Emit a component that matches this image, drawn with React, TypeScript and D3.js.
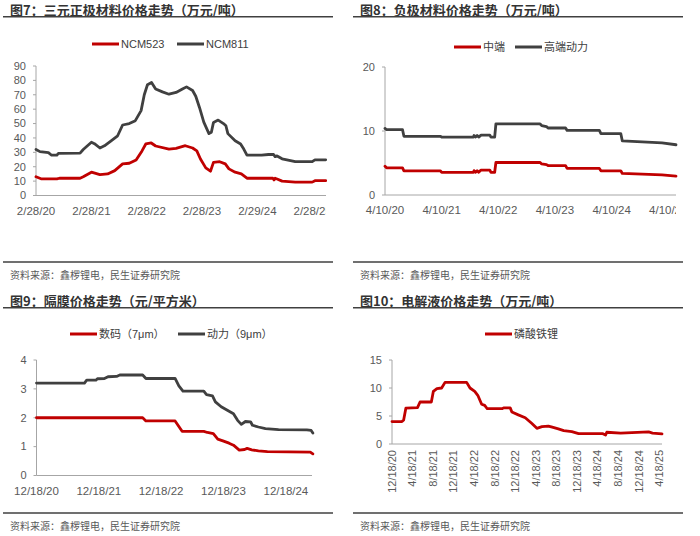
import React from 'react';
import * as d3 from 'd3';

type Pt = [string, number];

// ---------- Figure 7: cathode (万元/吨) ----------
const ncm523: Pt[] = [
  ['2020-02-28', 13], ['2020-04-01', 11.6], ['2020-07-15', 11.5], ['2020-08-01', 12], ['2020-12-15', 12],
  ['2021-01-05', 13], ['2021-02-28', 16.2], ['2021-04-25', 14.5], ['2021-06-15', 15], ['2021-08-01', 17.3],
  ['2021-09-22', 22], ['2021-11-05', 22.4], ['2021-12-20', 24.7], ['2022-01-28', 31], ['2022-02-22', 35.8],
  ['2022-03-30', 36.5], ['2022-04-28', 34.4], ['2022-07-25', 32.3], ['2022-09-10', 32.8], ['2022-11-10', 34.6],
  ['2022-12-28', 33], ['2023-01-25', 31], ['2023-02-18', 25.4], ['2023-03-25', 19.2], ['2023-04-25', 16.9],
  ['2023-05-15', 23], ['2023-06-25', 23.5], ['2023-08-01', 22], ['2023-08-25', 18.5], ['2023-10-05', 16.2],
  ['2023-11-15', 15], ['2023-12-22', 12], ['2024-06-10', 12], ['2024-06-18', 10.8], ['2024-06-25', 12],
  ['2024-07-08', 11.5], ['2024-08-10', 10], ['2024-11-05', 9.3], ['2025-02-25', 9.3], ['2025-03-15', 10.3],
  ['2025-05-25', 10.3],
];
const ncm811: Pt[] = [
  ['2020-02-28', 32], ['2020-03-25', 30.5], ['2020-05-20', 29.8], ['2020-06-10', 28], ['2020-07-15', 28],
  ['2020-07-25', 29.3], ['2020-12-15', 29.5], ['2021-01-05', 32], ['2021-02-28', 37], ['2021-03-20', 36],
  ['2021-04-25', 33], ['2021-05-25', 34.5], ['2021-07-08', 38], ['2021-08-20', 41.5], ['2021-09-22', 49],
  ['2021-11-05', 50], ['2021-12-15', 52], ['2022-01-22', 59], ['2022-02-12', 70], ['2022-03-05', 77],
  ['2022-04-01', 78.5], ['2022-04-28', 74], ['2022-06-12', 72], ['2022-07-25', 70.4], ['2022-09-10', 71.6],
  ['2022-10-22', 74], ['2022-11-18', 75.5], ['2022-12-28', 73], ['2023-01-18', 69], ['2023-02-12', 61],
  ['2023-03-12', 51], ['2023-04-15', 43], ['2023-05-01', 44], ['2023-05-15', 50.8], ['2023-06-15', 52.4],
  ['2023-07-20', 50], ['2023-08-05', 48.5], ['2023-08-18', 43], ['2023-10-05', 38], ['2023-11-10', 35.8],
  ['2023-12-01', 32.3], ['2023-12-22', 28], ['2024-03-28', 28], ['2024-05-12', 28.5], ['2024-06-15', 28.5],
  ['2024-06-25', 27], ['2024-07-08', 27.5], ['2024-08-10', 25.5], ['2024-11-05', 23.5], ['2025-02-25', 23.5],
  ['2025-03-15', 24.8], ['2025-05-25', 24.8],
];
const fig7Ticks = ['2020-02-28', '2021-02-28', '2022-02-28', '2023-02-28', '2024-02-29', '2025-02-28'];
const fig7YTicks = [0, 10, 20, 30, 40, 50, 60, 70, 80, 90];

// ---------- Figure 8: anode (万元/吨) ----------
const anodeMid: Pt[] = [
  ['2020-04-10', 4.5], ['2020-04-20', 4.25], ['2020-08-01', 4.25], ['2020-08-10', 3.78], ['2021-04-01', 3.78],
  ['2021-04-10', 3.55], ['2021-11-01', 3.55], ['2021-11-05', 3.8], ['2021-11-15', 3.55], ['2021-11-25', 3.8],
  ['2021-12-05', 3.55], ['2021-12-20', 3.9], ['2022-02-15', 3.9], ['2022-02-22', 3.55], ['2022-03-18', 3.55],
  ['2022-03-26', 5.08], ['2023-01-05', 5.08], ['2023-01-15', 4.85], ['2023-02-15', 4.75], ['2023-02-25', 4.6],
  ['2023-06-18', 4.6], ['2023-06-28', 4.15], ['2024-01-22', 4.15], ['2024-02-01', 3.78], ['2024-06-08', 3.78],
  ['2024-06-18', 3.37], ['2025-03-01', 3.15], ['2025-05-30', 2.95],
];
const anodeHigh: Pt[] = [
  ['2020-04-10', 10.4], ['2020-04-20', 10.2], ['2020-08-01', 10.2], ['2020-08-10', 9.17], ['2021-04-01', 9.17],
  ['2021-04-10', 9.05], ['2021-11-01', 9.05], ['2021-11-05', 9.3], ['2021-11-15', 9.05], ['2021-11-25', 9.3],
  ['2021-12-05', 9.05], ['2021-12-20', 9.35], ['2022-02-15', 9.35], ['2022-02-22', 9.05], ['2022-03-18', 9.05],
  ['2022-03-26', 11.1], ['2023-01-05', 11.1], ['2023-01-15', 10.85], ['2023-02-15', 10.7], ['2023-02-25', 10.47],
  ['2023-06-18', 10.47], ['2023-06-28', 10.1], ['2024-01-22', 10.1], ['2024-02-01', 9.6], ['2024-06-08', 9.6],
  ['2024-06-18', 8.45], ['2025-03-01', 8.15], ['2025-05-30', 7.85],
];
const fig8Ticks = ['2020-04-10', '2021-04-10', '2022-04-10', '2023-04-10', '2024-04-10', '2025-04-10'];
const fig8YTicks = [0, 10, 20];

// ---------- Figure 9: separator (元/平方米) ----------
const sep7: Pt[] = [
  ['2020-12-18', 2.0], ['2022-09-01', 2.0], ['2022-09-20', 1.89], ['2023-03-10', 1.89], ['2023-04-20', 1.53],
  ['2023-08-25', 1.53], ['2023-09-15', 1.49], ['2023-10-20', 1.45], ['2023-11-15', 1.26], ['2023-12-15', 1.2],
  ['2024-01-20', 1.12], ['2024-02-15', 1.05], ['2024-03-20', 0.88], ['2024-04-20', 0.9], ['2024-05-05', 0.94],
  ['2024-06-01', 0.89], ['2024-07-10', 0.85], ['2024-09-01', 0.83], ['2025-05-10', 0.81], ['2025-05-25', 0.75],
];
const sep9: Pt[] = [
  ['2020-12-18', 3.2], ['2021-09-25', 3.2], ['2021-10-08', 3.3], ['2021-12-01', 3.3], ['2021-12-10', 3.35],
  ['2022-01-20', 3.36], ['2022-02-10', 3.42], ['2022-04-01', 3.43], ['2022-04-20', 3.48], ['2022-09-01', 3.48],
  ['2022-09-20', 3.36], ['2023-03-10', 3.36], ['2023-04-01', 3.1], ['2023-04-25', 2.92], ['2023-08-25', 2.92],
  ['2023-09-10', 2.8], ['2023-10-15', 2.76], ['2023-11-01', 2.55], ['2023-12-05', 2.38], ['2024-01-10', 2.26],
  ['2024-02-15', 2.14], ['2024-03-10', 1.91], ['2024-04-01', 1.77], ['2024-04-25', 1.87], ['2024-05-25', 1.86],
  ['2024-06-05', 1.74], ['2024-07-10', 1.68], ['2024-08-20', 1.62], ['2024-11-05', 1.59], ['2025-04-20', 1.58],
  ['2025-05-15', 1.56], ['2025-05-25', 1.47],
];
const fig9Ticks = ['2020-12-18', '2021-12-18', '2022-12-18', '2023-12-18', '2024-12-18'];
const fig9YTicks = [0, 1, 2, 3, 4];

// ---------- Figure 10: electrolyte (万元/吨) ----------
const lfpElectrolyte: Pt[] = [
  ['2020-12-18', 4.0], ['2021-02-15', 4.0], ['2021-02-25', 4.3], ['2021-03-10', 6.4], ['2021-05-18', 6.5],
  ['2021-06-02', 7.5], ['2021-08-08', 7.5], ['2021-08-20', 9.4], ['2021-09-10', 9.9], ['2021-10-08', 10.0],
  ['2021-10-28', 11.0], ['2022-03-05', 11.0], ['2022-03-25', 10.0], ['2022-04-22', 9.4], ['2022-05-10', 8.7],
  ['2022-06-02', 7.1], ['2022-06-20', 6.9], ['2022-07-05', 6.3], ['2022-10-01', 6.3], ['2022-10-10', 6.45],
  ['2022-11-18', 6.45], ['2022-11-28', 5.7], ['2023-01-05', 5.2], ['2023-02-15', 4.7], ['2023-03-25', 3.7],
  ['2023-04-25', 2.8], ['2023-05-25', 3.1], ['2023-07-02', 3.2], ['2023-07-25', 3.0], ['2023-08-30', 2.7],
  ['2023-10-01', 2.4], ['2023-11-18', 2.2], ['2023-12-28', 1.85], ['2024-05-20', 1.85], ['2024-06-05', 1.6],
  ['2024-06-12', 2.1], ['2024-09-02', 1.95], ['2025-02-15', 2.15], ['2025-03-10', 1.95], ['2025-05-05', 1.8],
];
const fig10Ticks = [
  '2020-12-18', '2021-04-18', '2021-08-18', '2021-12-18', '2022-04-18', '2022-08-18', '2022-12-18',
  '2023-04-18', '2023-08-18', '2023-12-18', '2024-04-18', '2024-08-18', '2024-12-18', '2025-04-18',
];
const fig10YTicks = [0, 5, 10, 15];

const titles = [
  '图7：三元正极材料价格走势（万元/吨）',
  '图8：负极材料价格走势（万元/吨）',
  '图9：隔膜价格走势（元/平方米）',
  '图10：电解液价格走势（万元/吨）',
];
const sourceText = '资料来源：鑫椤锂电，民生证券研究院';

const RED = '#c00000';
const GRAY = '#404040';
const LATIN = "'Liberation Sans', Arial, 'Noto Sans CJK SC', sans-serif";
const CJK = "'Noto Sans CJK SC', 'Liberation Sans', sans-serif";

const parse = d3.timeParse('%Y-%m-%d');
const fmt = d3.timeFormat('%-m/%-d/%y');

type SeriesDef = { name: string; color: string; data: Pt[]; lx: number };

type PanelProps = {
  id: string;
  px: number;
  ty: number;
  title: string;
  legendY: number;
  series: SeriesDef[];
  xStart: string;
  xEnd: string;
  xRange: [number, number];
  yMax: number;
  yRange: [number, number];
  yTicks: number[];
  xTicks: string[];
  rotate?: boolean;
  bottomY: number;
  clipRight?: number;
};

function Panel(p: PanelProps) {
  const x = d3.scaleTime().domain([parse(p.xStart)!, parse(p.xEnd)!]).range(p.xRange);
  const y = d3.scaleLinear().domain([0, p.yMax]).range(p.yRange);
  const line = d3
    .line<Pt>()
    .x((d) => x(parse(d[0])!))
    .y((d) => y(d[1]));
  const ax = p.xRange[0];
  const ay = p.yRange[0];
  const clipId = `clip-${p.id}`;
  return (
    <g>
      <defs>
        <clipPath id={clipId}>
          <rect x={p.px} y={0} width={(p.clipRight ?? p.px + 340) - p.px} height={536} />
        </clipPath>
      </defs>
      <text x={p.px + 10} y={p.ty} fontFamily={CJK} fontWeight={700} fontSize={13} fill="#333">
        {p.title}
      </text>
      <line x1={p.px + 3} x2={p.px + 333} y1={p.ty + 2.3} y2={p.ty + 2.3} stroke="#404040" strokeWidth={1.6} />
      {p.series.map((s) => (
        <g key={s.name}>
          <line x1={s.lx} x2={s.lx + 27} y1={p.legendY} y2={p.legendY} stroke={s.color} strokeWidth={3} />
          <text x={s.lx + 29} y={p.legendY} dy="0.35em" fontFamily={LATIN} fontSize={11} fill="#404040">
            {s.name}
          </text>
        </g>
      ))}
      <line x1={ax} x2={ax} y1={ay} y2={p.yRange[1]} stroke="#a6a6a6" strokeWidth={1} />
      <line x1={ax} x2={p.xRange[1]} y1={ay} y2={ay} stroke="#a6a6a6" strokeWidth={1} />
      {p.yTicks.map((t) => (
        <g key={t}>
          <line x1={ax - 3} x2={ax} y1={y(t)} y2={y(t)} stroke="#a6a6a6" strokeWidth={1} />
          <text x={ax - 10} y={y(t)} dy="0.35em" textAnchor="end" fontFamily={LATIN} fontSize={11} fill="#595959">
            {t}
          </text>
        </g>
      ))}
      <g clipPath={`url(#${clipId})`}>
        {p.xTicks.map((t) => {
          const xx = x(parse(t)!);
          return p.rotate ? (
            <text
              key={t}
              transform={`translate(${xx},${ay + 6}) rotate(-90)`}
              dy="0.35em"
              textAnchor="end"
              fontFamily={LATIN}
              fontSize={11}
              fill="#595959"
            >
              {fmt(parse(t)!)}
            </text>
          ) : (
            <text key={t} x={xx} y={ay + 15} dy="0.35em" textAnchor="middle" fontFamily={LATIN} fontSize={11.5} fill="#595959">
              {fmt(parse(t)!)}
            </text>
          );
        })}
      </g>
      {p.series.map((s) => (
        <path key={s.name} d={line(s.data) ?? ''} fill="none" stroke={s.color} strokeWidth={2.8} strokeLinejoin="round" strokeLinecap="round" />
      ))}
      <line x1={p.px + 3} x2={p.px + 333} y1={p.bottomY} y2={p.bottomY} stroke="#404040" strokeWidth={1.4} />
      <text x={p.px + 10} y={p.bottomY + 17} fontFamily={CJK} fontSize={10} fill="#595959">
        {sourceText}
      </text>
    </g>
  );
}

export default function App() {
  return (
    <div style={{ position: 'absolute', left: 0, top: 0, width: 700, height: 536, background: '#fff' }}>
      <svg width={700} height={536} viewBox="0 0 700 536">
        <rect width={700} height={536} fill="#fff" />
        <Panel
          id="p7"
          px={0}
          ty={14.5}
          title={titles[0]}
          legendY={44}
          series={[
            { name: 'NCM523', color: RED, data: ncm523, lx: 92 },
            { name: 'NCM811', color: GRAY, data: ncm811, lx: 177 },
          ]}
          xStart="2020-02-28"
          xEnd="2025-05-27"
          xRange={[36, 326]}
          yMax={90}
          yRange={[195.5, 66]}
          yTicks={fig7YTicks}
          xTicks={fig7Ticks}
          bottomY={262}
          clipRight={326}
        />
        <Panel
          id="p8"
          px={350}
          ty={14.5}
          title={titles[1]}
          legendY={47}
          series={[
            { name: '中端', color: RED, data: anodeMid, lx: 454 },
            { name: '高端动力', color: GRAY, data: anodeHigh, lx: 515 },
          ]}
          xStart="2020-04-10"
          xEnd="2025-05-30"
          xRange={[385, 676]}
          yMax={20}
          yRange={[195, 67]}
          yTicks={fig8YTicks}
          xTicks={fig8Ticks}
          bottomY={262}
          clipRight={676}
        />
        <Panel
          id="p9"
          px={0}
          ty={305.5}
          title={titles[2]}
          legendY={334}
          series={[
            { name: '数码（7μm）', color: RED, data: sep7, lx: 70 },
            { name: '动力（9μm）', color: GRAY, data: sep9, lx: 178 },
          ]}
          xStart="2020-12-18"
          xEnd="2025-05-20"
          xRange={[36.5, 312]}
          yMax={4}
          yRange={[475.5, 360]}
          yTicks={fig9YTicks}
          xTicks={fig9Ticks}
          bottomY={513}
        />
        <Panel
          id="p10"
          px={350}
          ty={305.5}
          title={titles[3]}
          legendY={334}
          series={[{ name: '磷酸铁锂', color: RED, data: lfpElectrolyte, lx: 485 }]}
          xStart="2020-12-18"
          xEnd="2025-05-05"
          xRange={[392, 662]}
          yMax={15}
          yRange={[444, 360]}
          yTicks={fig10YTicks}
          xTicks={fig10Ticks}
          rotate
          bottomY={513}
        />
      </svg>
    </div>
  );
}
